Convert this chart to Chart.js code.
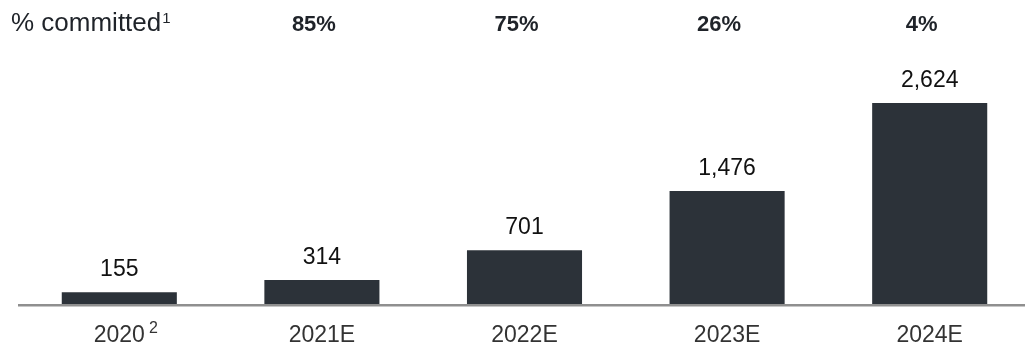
<!DOCTYPE html>
<html>
<head>
<meta charset="utf-8">
<script src="https://cdn.jsdelivr.net/npm/chart.js@4/dist/chart.umd.min.js"></script>
<style>
  html, body { margin: 0; padding: 0; background: #fff; overflow: hidden; }
  #wrap { position: relative; width: 1031px; height: 344px; }
</style>
</head>
<body>
<div id="wrap"><canvas id="c"></canvas></div>
<script>
const categories = ['2020', '2021E', '2022E', '2023E', '2024E'];
const categorySuperscripts = ['2', '', '', '', ''];
const values = [155, 314, 701, 1476, 2624];
const valueLabels = ['155', '314', '701', '1,476', '2,624'];
const committedTitle = '% committed';
const committedTitleSup = '1';
const committed = ['', '85%', '75%', '26%', '4%'];

const FONT = '"Liberation Sans", Arial, Helvetica, sans-serif';
const BAR_COLOR = '#2c3239';

const labelsPlugin = {
  id: 'labels',
  afterDraw(chart) {
    const ctx = chart.ctx;
    const x = chart.scales.x, y = chart.scales.y;
    const area = chart.chartArea;
    ctx.save();
    // baseline axis line
    ctx.fillStyle = '#8f8f8f';
    ctx.fillRect(area.left, area.bottom, chart.width - area.left, 2.5);

    // value labels
    ctx.fillStyle = '#111';
    ctx.font = '23px ' + FONT;
    ctx.textAlign = 'center';
    ctx.textBaseline = 'alphabetic';
    values.forEach((v, i) => {
      ctx.fillText(valueLabels[i], x.getPixelForValue(i), y.getPixelForValue(v) - 16);
    });

    // category labels
    ctx.fillStyle = '#333';
    categories.forEach((c, i) => {
      const cx = x.getPixelForValue(i);
      ctx.font = '23px ' + FONT;
      ctx.textAlign = 'center';
      ctx.fillText(c, cx, 341.5);
      if (categorySuperscripts[i]) {
        const w = ctx.measureText(c).width;
        ctx.font = '16px ' + FONT;
        ctx.textAlign = 'left';
        ctx.fillText(categorySuperscripts[i], cx + w / 2 + 4, 333);
      }
    });

    // committed row
    ctx.fillStyle = '#1f2329';
    ctx.textAlign = 'left';
    ctx.font = '26px ' + FONT;
    ctx.fillText(committedTitle, 11, 31);
    const tw = ctx.measureText(committedTitle).width;
    ctx.font = '15px ' + FONT;
    ctx.fillText(committedTitleSup, 11 + tw + 1, 23);
    ctx.font = 'bold 22px ' + FONT;
    ctx.textAlign = 'center';
    committed.forEach((t, i) => {
      if (t) ctx.fillText(t, x.getPixelForValue(i) - 8, 31);
    });
    ctx.restore();
  }
};

new Chart(document.getElementById('c'), {
  type: 'bar',
  data: {
    labels: categories,
    datasets: [{
      data: values,
      backgroundColor: BAR_COLOR,
      borderWidth: 0,
      categoryPercentage: 1,
      barPercentage: 0.568
    }]
  },
  options: {
    responsive: true,
    maintainAspectRatio: false,
    animation: false,
    events: [],
    layout: { padding: { left: 18, right: 0, top: 0, bottom: 40 } },
    plugins: { legend: { display: false }, tooltip: { enabled: false } },
    scales: {
      x: { display: false },
      y: { display: false, min: 0, max: 3968 }
    }
  },
  plugins: [labelsPlugin]
});
</script>
</body>
</html>
